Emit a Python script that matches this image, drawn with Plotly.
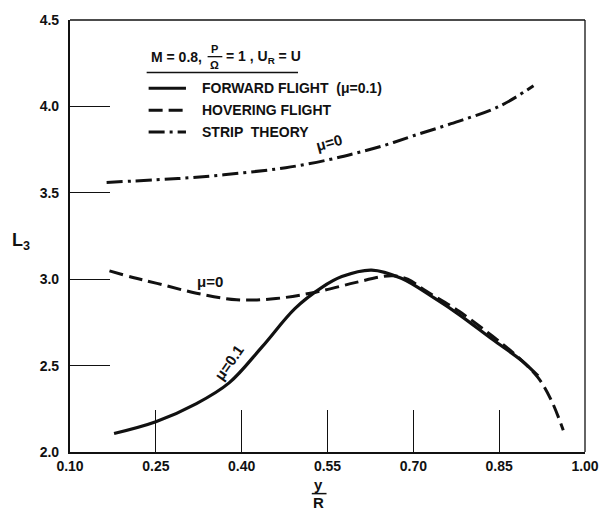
import plotly.graph_objects as go

# ---- data ----
strip_x = [0.164, 0.25, 0.321, 0.40, 0.477, 0.55, 0.60, 0.65, 0.70, 0.766, 0.85, 0.91]
strip_y = [3.56, 3.575, 3.59, 3.615, 3.645, 3.69, 3.73, 3.775, 3.83, 3.90, 4.00, 4.12]

hover_x = [0.169, 0.21, 0.252, 0.321, 0.391, 0.46, 0.529, 0.598, 0.645, 0.665, 0.69, 0.723,
           0.78, 0.838, 0.884, 0.918, 0.941, 0.962]
hover_y = [3.048, 3.01, 2.976, 2.919, 2.881, 2.888, 2.925, 2.98, 3.015, 3.02, 3.0, 2.93,
           2.814, 2.671, 2.546, 2.43, 2.30, 2.126]

fwd_x = [0.177, 0.25, 0.321, 0.378, 0.436, 0.493, 0.539, 0.575, 0.627, 0.679, 0.737,
         0.78, 0.838, 0.89, 0.918]
fwd_y = [2.107, 2.175, 2.28, 2.40, 2.61, 2.83, 2.95, 3.015, 3.053, 3.005, 2.89,
         2.795, 2.652, 2.527, 2.44]

x_ticks = [0.10, 0.25, 0.40, 0.55, 0.70, 0.85, 1.00]
x_tick_text = ["0.10", "0.25", "0.40", "0.55", "0.70", "0.85", "1.00"]
y_ticks = [2.0, 2.5, 3.0, 3.5, 4.0, 4.5]
y_tick_text = ["2.0", "2.5", "3.0", "3.5", "4.0", "4.5"]

legend_names = ["FORWARD FLIGHT  (μ=0.1)", "HOVERING FLIGHT", "STRIP  THEORY"]
legend_dashes = ["solid", "14px,6px", "16px,5px,3px,5px"]

FONT = "Liberation Sans"
BLACK = "#111111"

fig = go.Figure()
fig.add_trace(go.Scatter(x=fwd_x, y=fwd_y, mode="lines", line=dict(color=BLACK, width=3.2, shape="spline", dash=legend_dashes[0])))
fig.add_trace(go.Scatter(x=hover_x, y=hover_y, mode="lines", line=dict(color=BLACK, width=3, shape="spline", dash=legend_dashes[1])))
fig.add_trace(go.Scatter(x=strip_x, y=strip_y, mode="lines", line=dict(color=BLACK, width=3, shape="spline", dash=legend_dashes[2])))

L, R, T, B = 70, 17, 16, 61
W, H = 611, 513
pw, ph = W - L - R, H - T - B

def px(xp):
    return (xp - L) / pw

def py(yp):
    return (H - B - yp) / ph

shapes = []
annotations = []

# frame top & right (thin)
shapes.append(dict(type="line", xref="paper", yref="paper", x0=0, x1=1, y0=1, y1=1, line=dict(color=BLACK, width=1.3)))
shapes.append(dict(type="line", xref="paper", yref="paper", x0=1, x1=1, y0=0, y1=1, line=dict(color=BLACK, width=1.3)))

# legend header
annotations.append(dict(x=px(150), y=py(53), xref="paper", yref="paper", text="M = 0.8,", showarrow=False,
                        xanchor="left", yanchor="middle", font=dict(family=FONT, size=14, color=BLACK, weight="bold")))
annotations.append(dict(x=px(217), y=py(45), xref="paper", yref="paper", text="P", showarrow=False,
                        xanchor="center", yanchor="middle", font=dict(family=FONT, size=11, color=BLACK, weight="bold")))
annotations.append(dict(x=px(217), y=py(61), xref="paper", yref="paper", text="Ω", showarrow=False,
                        xanchor="center", yanchor="middle", font=dict(family=FONT, size=11, color=BLACK, weight="bold")))
shapes.append(dict(type="line", xref="paper", yref="paper", x0=px(210), x1=px(225), y0=py(53), y1=py(53), line=dict(color=BLACK, width=1.3)))
annotations.append(dict(x=px(227), y=py(53), xref="paper", yref="paper", text="= 1 , U<sub>R</sub> = U", showarrow=False,
                        xanchor="left", yanchor="middle", font=dict(family=FONT, size=14, color=BLACK, weight="bold")))
shapes.append(dict(type="line", xref="paper", yref="paper", x0=px(148), x1=px(302), y0=py(69), y1=py(69), line=dict(color=BLACK, width=1.3)))

rows = [85, 107, 129]
for name, dash, ry in zip(legend_names, legend_dashes, rows):
    shapes.append(dict(type="line", xref="paper", yref="paper", x0=px(150), x1=px(188), y0=py(ry), y1=py(ry),
                       line=dict(color=BLACK, width=3, dash=dash)))
    annotations.append(dict(x=px(202), y=py(ry), xref="paper", yref="paper", text=name, showarrow=False,
                            xanchor="left", yanchor="middle", font=dict(family=FONT, size=14, color=BLACK, weight="bold")))

# curve labels
annotations.append(dict(x=0.553, y=3.79, text="μ=0", showarrow=False, textangle=-15,
                        font=dict(family=FONT, size=15, color=BLACK, weight="bold")))
annotations.append(dict(x=0.345, y=2.985, text="μ=0", showarrow=False,
                        font=dict(family=FONT, size=15, color=BLACK, weight="bold")))
annotations.append(dict(x=0.378, y=2.516, text="μ=0.1", showarrow=False, textangle=-55,
                        font=dict(family=FONT, size=15, color=BLACK, weight="bold")))

# axis titles
annotations.append(dict(x=px(323), y=py(485), xref="paper", yref="paper", text="y", showarrow=False,
                        xanchor="center", yanchor="middle", font=dict(family=FONT, size=15, color=BLACK, weight="bold")))
shapes.append(dict(type="line", xref="paper", yref="paper", x0=px(316), x1=px(331), y0=py(494), y1=py(494), line=dict(color=BLACK, width=1.5)))
annotations.append(dict(x=px(323), y=py(503), xref="paper", yref="paper", text="R", showarrow=False,
                        xanchor="center", yanchor="middle", font=dict(family=FONT, size=15, color=BLACK, weight="bold")))
annotations.append(dict(x=px(20), y=py(240), xref="paper", yref="paper", text="L<sub>3</sub>", showarrow=False,
                        xanchor="center", yanchor="middle", font=dict(family=FONT, size=18, color=BLACK, weight="bold")))

fig.update_layout(
    width=W, height=H,
    margin=dict(l=L, r=R, t=T, b=B),
    paper_bgcolor="white", plot_bgcolor="white",
    showlegend=False,
    shapes=shapes, annotations=annotations,
    xaxis=dict(range=[0.10, 1.00], tickvals=x_ticks, ticktext=x_tick_text, ticks="inside", ticklen=42,
               tickwidth=1.3, tickcolor=BLACK, showgrid=False, zeroline=False, showline=True, linewidth=2.2,
               linecolor=BLACK, tickfont=dict(family=FONT, size=14, color=BLACK, weight="bold")),
    yaxis=dict(range=[2.0, 4.5], tickvals=y_ticks, ticktext=y_tick_text, ticks="inside", ticklen=40,
               tickwidth=1.3, tickcolor=BLACK, showgrid=False, zeroline=False, showline=True, linewidth=2.2,
               linecolor=BLACK, ticklabelstandoff=6, tickfont=dict(family=FONT, size=14, color=BLACK, weight="bold")),
)

fig.write_html("out.html")
